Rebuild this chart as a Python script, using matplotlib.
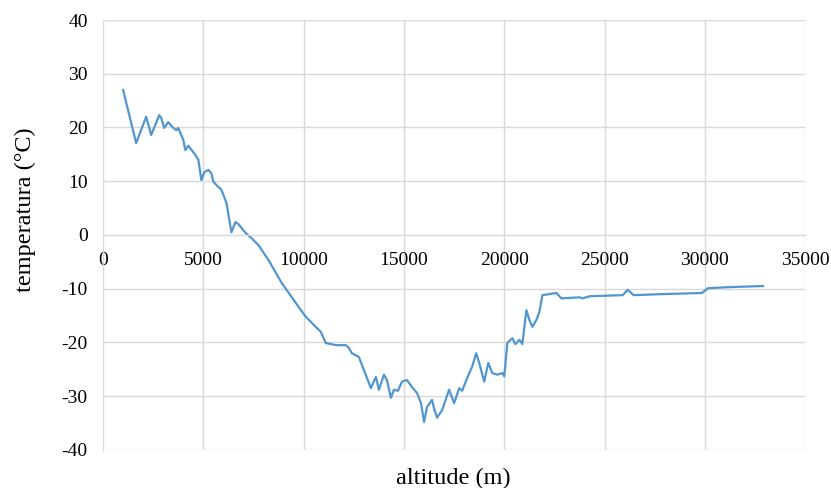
import matplotlib
matplotlib.use("Agg")
import matplotlib.pyplot as plt

# altitude (m) and temperature (C)
altitude = [1000, 1650, 2150, 2400, 2800, 2900, 3050, 3250, 3450, 3650, 3750, 4000,
            4100, 4250, 4600, 4750, 4900, 5050, 5250, 5400, 5500, 5650, 5900, 6150,
            6400, 6600, 6750, 7100, 7400, 7750, 8250, 8900, 9750, 10100, 10600, 10850,
            11100, 11600, 12100, 12250, 12400, 12750, 13000, 13350, 13600, 13750, 14000,
            14150, 14350, 14500, 14700, 14900, 15150, 15400, 15650, 15850, 16000, 16150,
            16400, 16500, 16650, 16900, 17250, 17500, 17750, 17900, 18150, 18400, 18600,
            18750, 19000, 19200, 19400, 19650, 19900, 20000, 20150, 20400, 20550, 20750,
            20900, 21100, 21250, 21400, 21600, 21750, 21900, 22250, 22600, 22850, 23750,
            23900, 24250, 25900, 26150, 26450, 27900, 29850, 30150, 31250, 32900]
temperature = [27, 17.1, 22, 18.6, 22.3, 21.8, 19.9, 21, 20.1, 19.5, 19.9, 17.7,
               15.8, 16.6, 14.9, 14, 10.2, 11.7, 12.1, 11.5, 9.9, 9.3, 8.4, 6,
               0.5, 2.4, 2, 0.4, -0.6, -1.9, -4.7, -8.9, -13.4, -15.2, -17.1, -18,
               -20.1, -20.5, -20.5, -21, -22, -22.7, -25.1, -28.5, -26.4, -28.8, -26,
               -27, -30.3, -28.8, -29, -27.3, -27, -28.3, -29.4, -31.3, -34.8, -32,
               -30.7, -32.3, -34, -32.6, -28.8, -31.3, -28.5, -29, -26.6, -24.5, -22,
               -23.8, -27.3, -23.8, -25.7, -26, -25.7, -26.3, -20.1, -19.2, -20.3, -19.5,
               -20.3, -14, -15.8, -17.1, -15.8, -14.3, -11.2, -11, -10.8, -11.8, -11.6,
               -11.8, -11.4, -11.2, -10.2, -11.2, -11, -10.8, -9.9, -9.7, -9.5]

plt.rcParams['font.family'] = ['Liberation Serif', 'DejaVu Serif']
plt.rcParams['axes.unicode_minus'] = False

fig = plt.figure(figsize=(8.31, 4.88), dpi=100)
ax = fig.add_axes([0.124, 0.078, 0.845, 0.881])

ax.plot(altitude, temperature, color='#5296d0', linewidth=1.6)

ax.set_xlim(0, 35000)
ax.set_ylim(-40, 40)
ax.set_xticks(range(0, 35001, 5000))
ax.set_yticks(range(-40, 41, 10))
ax.grid(True, color='#d9d9d9', linewidth=1)
ax.set_axisbelow(True)

for side in ['top', 'right']:
    ax.spines[side].set_visible(False)
ax.spines['left'].set_color('#d9d9d9')
ax.spines['bottom'].set_position(('data', 0))
ax.spines['bottom'].set_color('#d9d9d9')
ax.tick_params(axis='y', length=0, labelsize=14, pad=11)
ax.tick_params(axis='x', length=0, labelsize=14, pad=12)

fig.text(0.03, 0.57, 'temperatura (°C)', rotation=90, ha='center', va='center', fontsize=17.5)
fig.text(0.546, 0.008, 'altitude (m)', ha='center', fontsize=17.5)

fig.savefig('out.png', dpi=100)
